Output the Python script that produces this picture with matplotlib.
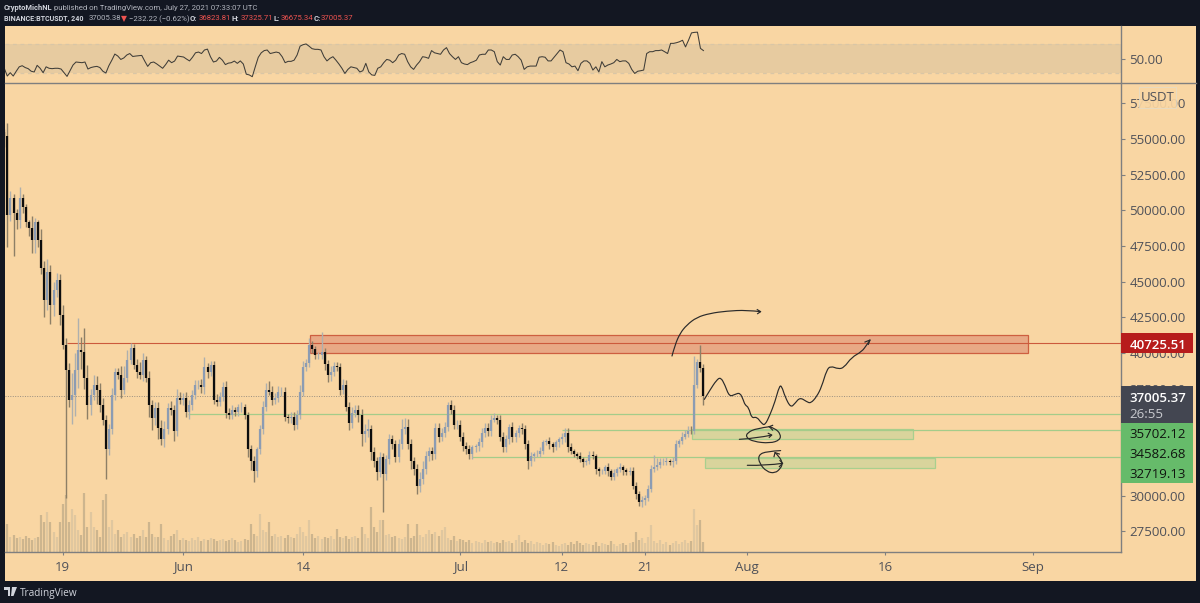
import numpy as np
import matplotlib
matplotlib.use("Agg")
import matplotlib.pyplot as plt
import matplotlib.dates as mdates
from matplotlib.patches import Rectangle, Polygon, PathPatch
from matplotlib.path import Path
from matplotlib.lines import Line2D
from datetime import datetime, timedelta

plt.rcParams['font.family'] = ['Open Sans', 'DejaVu Sans']

# ---------- data ----------
closes = [55220,49640,50830,49780,49290,50830,50200,49150,48730,47900,
49150,47900,45940,43710,45660,43360,44410,45110,42660,40570,
38820,36730,37080,38820,40220,40080,38270,36380,37080,37780,
37430,36380,35330,33240,34640,37080,38680,38470,37430,38270,
39520,40360,39170,38680,38470,39520,38270,36380,35470,36170,
34770,33940,34640,36170,36030,34500,36870,36730,36870,35890,
36380,37080,37780,37780,37600,39030,38680,39170,36730,36590,
36940,37640,35820,35680,36030,35890,36240,36240,35680,33240,
32400,31700,33240,34640,36240,37430,37290,36730,36870,37290,
37290,35540,35470,35540,34980,35680,37290,39030,39310,40570,
40290,39870,39870,40080,39240,38470,38680,39100,39030,37430,
37780,36240,35120,35820,36030,35680,34290,34500,34640,33030,
32400,31630,32680,31490,32540,33940,33590,32680,33590,34640,
34840,33590,32400,31840,30650,31140,31840,32750,33100,32890,
34770,34140,34420,34840,36380,36030,34980,34980,34140,33450,
33240,32890,33380,33450,33730,34420,34770,34500,35330,35470,
35330,34140,33380,33940,34840,34080,34420,34770,34640,33590,
32400,32750,32890,32890,33100,33730,33800,33590,33380,33730,
33940,34080,34420,33380,33100,32890,32750,32540,32330,32400,
32820,32750,31840,31700,31700,31980,31700,31280,31560,31840,
31980,31770,31630,31700,30650,30100,29540,29680,29820,30450,
31840,31980,32120,32330,32330,32400,32330,32400,33590,33800,
34140,34290,34560,34500,37730,39380,38960,37005.37]
first_open = 55500

upper_wick = [200,900,500,300,300,800,300,250,200,900,
300,200,800,500,900,500,600,500,400,700,
500,500,1500,1200,2230,900,1670,900,400,700,
600,500,500,300,400,500,300,300,600,800,
700,340,300,400,700,500,300,500,300,400,
400,500,600,300,500,300,600,400,300,400,
300,300,300,300,400,700,300,300,300,400,
300,300,400,300,300,200,200,300,200,200,
300,400,200,300,400,500,600,400,300,400,
300,300,200,300,300,300,500,400,300,480,
300,200,200,1390,300,300,400,300,300,300,
400,300,300,400,300,300,400,500,700,300,
400,300,400,300,300,400,300,300,400,700,
600,500,400,300,400,500,600,400,300,300,
300,300,300,300,200,300,300,300,300,300,
300,300,200,200,300,300,300,300,300,300,
200,300,300,300,200,300,200,200,300,300,
300,300,200,300,300,200,200,300,200,200,
200,300,300,300,300,200,200,300,200,200,
300,300,200,200,200,200,300,200,300,200,
300,200,200,300,300,300,200,300,200,300,
300,900,500,300,300,300,200,300,300,200,
300,300,300,300,2060,200,1180,300]

lower_wick = [800,2200,400,3000,600,500,400,300,500,900,
900,500,400,1200,700,1300,800,500,700,300,
8960,500,1700,1500,1300,1200,800,1000,700,400,
1000,500,400,2100,400,300,400,300,600,300,
300,300,300,400,300,400,300,900,900,500,
800,400,500,300,400,700,300,300,400,400,
500,400,300,300,400,500,400,300,300,300,
300,300,400,300,300,300,300,400,300,500,
600,740,400,300,300,300,200,400,300,300,
300,300,400,400,400,300,300,300,300,300,
300,300,300,300,400,500,400,300,300,400,
300,300,500,400,300,500,800,500,400,500,
400,500,300,2630,400,300,300,300,300,300,
300,300,500,400,530,400,300,300,300,400,
300,400,300,300,300,300,300,300,300,300,
300,300,300,300,300,300,300,300,300,200,
300,300,300,300,300,300,300,300,300,300,
500,300,300,200,200,200,200,300,300,200,
300,300,300,300,200,200,200,200,300,200,
200,200,300,300,200,200,300,200,200,200,
200,300,200,200,200,300,250,300,300,200,
200,200,200,200,200,200,200,300,200,200,
200,200,200,200,200,200,300,645]

volume = [42,28,15,17,14,15,13,16,14,12,
14,15,37,30,40,30,20,15,30,48,
57,30,43,37,22,17,59,25,40,25,
22,15,52,58,25,32,18,22,15,18,
20,15,18,14,16,22,15,30,18,15,
15,28,14,12,16,18,22,12,14,12,
11,14,12,15,11,13,12,14,13,11,
12,13,11,12,14,12,10,11,13,12,
28,18,16,38,22,20,30,16,18,15,
16,14,17,15,14,18,25,20,16,32,
18,14,16,13,15,14,16,13,23,15,
14,16,13,15,16,14,25,18,14,45,
25,20,32,32,17,18,15,16,14,13,
15,28,14,16,28,17,15,18,22,18,
20,16,22,25,14,12,16,11,13,12,
10,12,9,11,10,9,12,10,11,9,
10,9,12,10,11,9,12,17,10,12,
9,11,8,10,9,7,9,8,10,7,
6,8,9,7,10,8,11,9,7,9,
8,7,10,6,9,8,7,11,8,6,
8,9,7,9,10,20,12,14,9,15,
27,11,9,12,8,10,7,9,11,8,
10,12,9,11,43,27,32,10]

rsi = [37,26.5,31,26.5,33,39,40.5,38,36.5,33,32,41,37,31,39,37,36.5,37,37,36,
31,26,33.7,41.4,45.5,45,44.6,45.5,36,38,39,39.6,38,33,30.6,40.5,48,56.3,53.6,49,
51,55,57,53,53.6,54,54.5,46.8,39.6,44.6,45.5,43,40,37,42,48,44.6,46.8,53.6,53,
52.3,49.5,47,52,58,59,57,61.8,63,52.7,45.5,46.8,51.8,48,42,44,44.6,46.8,43.7,47,
42.8,29,28,25.6,39,51.8,58,61,61.8,57,58,59,58,52.7,44.6,46.4,46.4,48,55,67,
69,70,67,63.6,62.7,62.7,61.8,52.7,47,50.5,52.7,48,42.8,37,30,35.5,39,38,37,32,
33.7,43.7,32,28,27.4,37,39,44.6,49,48,44.6,48,
55,57,56,46,39,35.5,41.4,46,52.7,52,50.5,61,58,57,56,61.8,65,57,52.7,49,
52.7,44.6,42.8,42,44.6,46,48,55,56,56,61.8,61.8,59.5,46,41.4,52.7,49,49,55,56,
52.7,48,35.5,39,40,40,40,52,52.7,52,47,47,52,57,61.8,59.5,44.6,42.8,39,40,
33.7,43.7,47,47,43.7,34.6,39,32,46,39,41.4,42.8,44.6,49,46,47,47,43.7,35.5,30,
33,33.7,34.6,57,59.5,59.5,61,61,61.8,59.5,57,70.8,70.8,71.7,73,75,66,75,85,85.7,
86,64,61]

y_ticks = [27500,30000,32500,35000,37500,40000,42500,45000,47500,50000,52500,55000,57500]
y_hidden = [32500,35000]   # covered by the green price labels
date_labels = ["19","Jun","14","Jul","12","21","Aug","16","Sep"]
date_ticks = [datetime(2021,5,19),datetime(2021,6,1),datetime(2021,6,14),datetime(2021,7,1),
              datetime(2021,7,12),datetime(2021,7,21),datetime(2021,8,1),datetime(2021,8,16),datetime(2021,9,1)]

resistance = 40725.51
last_price = 37005.37
support_levels = [35702.12, 34582.68, 32719.13]
support_start_days = [13.55, 54.05, 44.3]   # days after 19 May

# zones: start day, end day, low, high
red_zone = (26.75, 104.46, 39980, 41262)
green_zone_a = (68.1, 92.0, 33952, 34674)
green_zone_b = (69.5, 94.4, 31920, 32662)

# hand-drawn paths: days after 19 May, price
arc_d = [65.93,66.25,66.8,67.52,68.6,70.04,71.85,74.01,75.52]
arc_p = [39790,40560,41380,41960,42500,42780,42940,43010,42900]
arc_head_d = [75.16,75.52,75.2]
arc_head_p = [43040,42900,42760]
wave_d = [69.43,70.04,70.76,71.2,71.66,72.13,72.75,73.29,73.65,73.83,74.23,74.55,75.09,75.63,75.99,76.53,77.08,77.55,77.8,78.16,78.77,79.24,79.78,80.5,80.94,81.59,82.13,82.67,83.1,83.93,84.54,85.37,86.46,87,87.36]
wave_p = [36750,37410,38110,38300,37760,36940,37100,37220,36710,36360,36190,35420,35540,35070,34930,35660,36590,37690,37690,36940,36170,36470,36890,36590,36470,36940,37640,38810,39090,38880,38970,39700,40090,40560,40910]
wave_head_d = [86.82,87.36,87.18]
wave_head_p = [40770,40910,40610]
c1_line_d = [73.22,75.09,76.72]
c1_line_p = [33950,34020,34250]
c1_lhead_d = [76.35,76.72,76.46]
c1_lhead_p = [34370,34250,34090]
c1_d = [76.53,75.09,74.08,73.94,74.73,76.53,77.62,77.69,77.08,76.46]
c1_p = [34840,34720,34420,34090,33790,33670,33900,34320,34720,34840]
c1_head_d = [76.82,76.46,76.82]
c1_head_p = [34930,34840,34600]
c2_line_d = [74.08,76.17,77.9]
c2_line_p = [32130,32100,32270]
c2_lhead_d = [77.62,77.9,77.55]
c2_lhead_p = [32460,32270,32035]
c2_d = [77.69,76.17,75.27,75.38,76.17,77.08,77.69,77.9,77.55,77.08]
c2_p = [33160,33110,32850,32270,31680,31570,31920,32270,32735,33020]
c2_head_d = [76.97,77.08,77.55]
c2_head_p = [32735,33020,32920]

# ---------- layout ----------
W, H = 1200, 603
BG = '#F9D6A3'
DARK = '#131722'
AXC = '#7f7f7f'
TXT = '#4f5159'
L, R = 4.5, 1120.5
fig = plt.figure(figsize=(W/100, H/100), dpi=100, facecolor=DARK)

def fx(x): return x / W
def fy(y): return 1 - y / H
def pane(top, bottom):
    return fig.add_axes([fx(L), fy(bottom), fx(R - L), (bottom - top) / H])

fig.add_artist(Rectangle((fx(L), fy(581)), fx(1196 - L), (581 - 25.7) / H,
                         transform=fig.transFigure, fc=BG, ec='none', zorder=-1))

ax_rsi = pane(25.7, 82.5)
ax = pane(82.5, 551.5)
ax_vol = ax.twinx()
ax.set_zorder(2); ax_vol.set_zorder(1); ax_rsi.set_zorder(1)
ax.patch.set_alpha(0); ax_vol.patch.set_facecolor(BG); ax_rsi.patch.set_facecolor(BG)

base = mdates.date2num(datetime(2021, 5, 19))
def D(days): return base + np.asarray(days, dtype=float)
xlim = (D(-6.31), D(114.47))

# price pane
pxunit = 70.09
ax.set_ylim(55000 - (551.5 - 139) * pxunit, 55000 + (139 - 82.5) * pxunit)
ax.set_xlim(*xlim)
ax_vol.set_xlim(*xlim)
ax_vol.set_ylim(0, 469)
ax_vol.axis('off')

start = datetime(2021, 5, 12, 16)
t = mdates.date2num([start + timedelta(hours=8 * i) for i in range(len(closes))])
c = np.array(closes)
o = np.r_[first_open, c[:-1]]
up = c >= o
hi = np.maximum(o, c) + np.array(upper_wick)
lo = np.minimum(o, c) - np.array(lower_wick)

UPC, DNC = '#8c9cb3', '#0d0d0d'
ax_vol.vlines(t[up], 0, np.array(volume)[up], color='#e0c79f', lw=1.6, zorder=1)
ax_vol.vlines(t[~up], 0, np.array(volume)[~up], color='#cdb58e', lw=1.6, zorder=1)

# zones
def zone(z, fc, ec):
    ax.add_patch(Rectangle((D(z[0]), z[2]), z[1] - z[0], z[3] - z[2], fc=fc, ec=ec, lw=0.9, zorder=2))
zone(red_zone, '#E8A985', '#CE5F40')
zone(green_zone_a, '#D9D49C', '#A9CF8E')
zone(green_zone_b, '#D9D49C', '#A9CF8E')

# levels
ax.hlines(resistance, D(0.42), xlim[1], color='#CC5A3C', lw=0.8, zorder=3)
ax.hlines(last_price, xlim[0], xlim[1], color='#9a8f80', lw=0.7, linestyles=(0, (1, 1.5)), zorder=3)
for lv, s in zip(support_levels, support_start_days):
    ax.hlines(lv, D(s), xlim[1], color='#A4CC8A', lw=0.9, zorder=3)

# candles
ax.vlines(t[up], lo[up], hi[up], color='#aeb0ae', lw=1.0, zorder=4)
ax.vlines(t[~up], lo[~up], hi[~up], color='#8d7f66', lw=1.0, zorder=4)
ax.vlines(t[up], o[up], c[up], color=UPC, lw=1.6, zorder=5)
ax.vlines(t[~up], c[~up], o[~up], color=DNC, lw=1.6, zorder=5)

# hand drawings
def smooth(d, p):
    pts = np.column_stack([D(d), p])
    verts = [pts[0]]
    codes = [Path.MOVETO]
    for i in range(1, len(pts) - 1):
        mid = (pts[i] + pts[i + 1]) / 2 if i < len(pts) - 2 else pts[i + 1]
        verts += [pts[i], mid]
        codes += [Path.CURVE3, Path.CURVE3]
    return PathPatch(Path(verts, codes), fc='none', ec='#2a2a2a', lw=0.85, zorder=6, capstyle='round')

for d, p in [(arc_d, arc_p), (wave_d, wave_p), (c1_line_d, c1_line_p), (c1_d, c1_p),
             (c2_line_d, c2_line_p), (c2_d, c2_p)]:
    ax.add_patch(smooth(d, p))
for d, p in [(arc_head_d, arc_head_p), (wave_head_d, wave_head_p), (c1_lhead_d, c1_lhead_p),
             (c1_head_d, c1_head_p), (c2_lhead_d, c2_lhead_p), (c2_head_d, c2_head_p)]:
    ax.plot(D(d), p, color='#2a2a2a', lw=0.85, solid_joinstyle='round', zorder=6)

ax.yaxis.tick_right()
ax.set_yticks(y_ticks)
ax.set_yticklabels(["" if v in y_hidden else f"{v:.2f}" for v in y_ticks])
ax.set_xticks(mdates.date2num(date_ticks))
ax.set_xticklabels(date_labels)
ax.tick_params(axis='y', length=3, width=0.8, color=AXC, labelcolor=TXT, labelsize=9.5, pad=3.5)
ax.tick_params(axis='x', length=2.5, width=0.8, color=AXC, labelcolor=TXT, labelsize=9.5, pad=4)
for s in ('top', 'left'):
    ax.spines[s].set_visible(False)
for s in ('right', 'bottom'):
    ax.spines[s].set_color(AXC); ax.spines[s].set_linewidth(1)

# RSI pane
ax_rsi.set_xlim(*xlim)
ax_rsi.set_ylim(50 - (82.5 - 58.7) / 0.7375, 50 + (58.7 - 25.7) / 0.7375)
ax_rsi.axhspan(30, 70, color='#E7CBA0', lw=0, zorder=1)
ax_rsi.axhline(70, color='#D9C6A6', lw=0.9, ls=(0, (3, 3)), zorder=2)
ax_rsi.axhline(30, color='#D9C6A6', lw=0.9, ls=(0, (3, 3)), zorder=2)
t_rsi = np.linspace(t[0], t[-1], len(rsi))
ax_rsi.plot(t_rsi, rsi, color='#3f3d38', lw=0.75, zorder=3)
ax_rsi.set_xticks([])
ax_rsi.yaxis.tick_right()
ax_rsi.set_yticks([50])
ax_rsi.set_yticklabels(["50.00"])
ax_rsi.tick_params(axis='y', length=3, width=0.8, color=AXC, labelcolor=TXT, labelsize=9.5, pad=3.5)
for s in ('top', 'left', 'bottom'):
    ax_rsi.spines[s].set_visible(False)
ax_rsi.spines['right'].set_color(AXC); ax_rsi.spines['right'].set_linewidth(1)

# separator across to the scale's right edge
fig.add_artist(Line2D([fx(L), fx(1196)], [fy(82.5), fy(82.5)], transform=fig.transFigure,
                      color=AXC, lw=1, zorder=5))

# price labels on the scale
def box(x0, x1, y0, y1, fc, ec='none', alpha=1, z=6):
    fig.add_artist(Rectangle((fx(x0), fy(y1)), fx(x1 - x0), (y1 - y0) / H, transform=fig.transFigure,
                             fc=fc, ec=ec, lw=0.6, alpha=alpha, zorder=z))
def label(x, y, s, color, size=9.5, weight='normal', ha='left'):
    fig.text(fx(x), fy(y), s, color=color, fontsize=size, fontweight=weight, ha=ha, va='center_baseline', zorder=7)

box(1121, 1192.7, 333.3, 353.3, '#B71C1C')
label(1129.3, 343.6, f"{resistance:.2f}", 'white', weight='semibold')
box(1121, 1192.7, 386, 423.3, '#434651')
label(1129.3, 396.8, f"{last_price:.2f}", 'white', weight='semibold')
label(1129.3, 413, "26:55", '#c9cacf')
box(1121, 1192.7, 423.3, 483.3, '#66BB6A')
for lv, y in zip(support_levels, [433.3, 453.5, 473.3]):
    label(1129.3, y, f"{lv:.2f}", '#10140f')
box(1139, 1176, 87, 108, BG, ec='#E4DCC8', alpha=0.92)
label(1157.5, 96, "USDT", TXT, ha='center')

# header
HC, HB = '#b2b5be', '#d1d4dc'
def head(x, y, s, color=HC, weight='normal', size=5.6):
    fig.text(fx(x), fy(y), s, color=color, fontsize=size, fontweight=weight, ha='left', va='center_baseline',
             family=['Roboto', 'DejaVu Sans'])
RED = '#EF5350'
head(4, 7.5, "CryptoMichNL", HB, 'bold', 5.4)
head(54.5, 7.5, "published on TradingView.com, July 27, 2021 07:33:07 UTC")
head(4, 18, "BINANCE:BTCUSDT, 240", HB, 'bold', 5.1)
head(88.5, 18, "37005.38")
head(121, 18, "\u25BC", RED)
head(129, 18, "\u2212232.22 (\u22120.62%)")
for x, s in [(190, "O:"), (232, "H:"), (273, "L:"), (314, "C:")]:
    head(x, 18, s, HB, 'bold')
for x, s in [(199, "36823.81"), (241, "37325.71"), (281, "36675.34"), (321, "37005.37")]:
    head(x, 18, s, RED)

# footer
fig.text(fx(20), fy(592), "TradingView", color='#d1d4dc', fontsize=7.2, ha='left', va='center_baseline')
LOGO = '#d1d4dc'
fig.add_artist(Polygon([(fx(4), fy(587)), (fx(10), fy(587)), (fx(10), fy(596)), (fx(7.5), fy(596)),
                        (fx(7.5), fy(590)), (fx(4), fy(590))], transform=fig.transFigure, fc=LOGO, ec='none'))
fig.add_artist(Polygon([(fx(12), fy(587)), (fx(17), fy(587)), (fx(13.5), fy(596)), (fx(11), fy(596))],
                       transform=fig.transFigure, fc=LOGO, ec='none'))

fig.savefig("out.png", dpi=100, facecolor=DARK)
